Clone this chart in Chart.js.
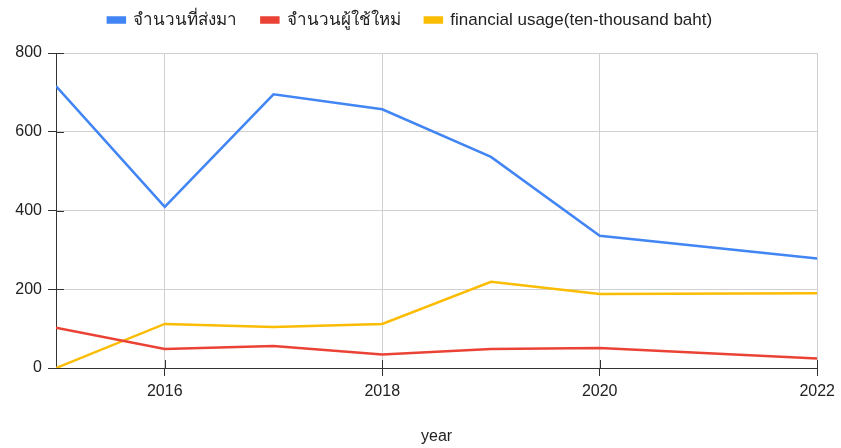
<!DOCTYPE html>
<html>
<head>
<meta charset="utf-8">
<script src="https://cdn.jsdelivr.net/npm/chart.js@4"></script>
<style>
html,body{margin:0;padding:0;background:#fff;}
canvas{display:block;}
</style>
</head>
<body>
<canvas id="c" width="841" height="448"></canvas>
<script>
const years = [2015, 2016, 2017, 2018, 2019, 2020, 2022];
const sentIn = [716, 409, 695, 657, 536, 336, 278];
const newUsers = [102, 48, 56, 34, 48, 51, 24];
const financialUsage = [0, 112, 104, 112, 219, 188, 190];
const seriesNames = ['จำนวนที่ส่งมา', 'จำนวนผู้ใช้ใหม่', 'financial usage(ten-thousand baht)'];
const xTicks = [2016, 2018, 2020, 2022];
const yTicks = [0, 200, 400, 600, 800];

const FONT = "Arial, 'Liberation Sans', 'Noto Sans', sans-serif";
const toPts = arr => years.map((y, i) => ({x: y, y: arr[i]}));

const innerTicks = {
  id: 'innerTicks',
  beforeDatasetsDraw(chart) {
    const ctx = chart.ctx, xs = chart.scales.x, ys = chart.scales.y;
    const a = chart.chartArea;
    ctx.save();
    ctx.strokeStyle = '#333';
    ctx.lineWidth = 1;
    ctx.beginPath();
    xTicks.forEach(v => {
      const px = Math.round(xs.getPixelForValue(v)) + 0.5;
      ctx.moveTo(px, a.bottom); ctx.lineTo(px, a.bottom - 8);
    });
    yTicks.forEach(v => {
      const py = Math.round(ys.getPixelForValue(v)) + 0.5;
      ctx.moveTo(a.left, py); ctx.lineTo(a.left + 8, py);
    });
    ctx.stroke();
    ctx.restore();
  }
};

const legendShift = {
  id: 'legendShift',
  afterLayout(chart) {
    if (chart.legend) {
      chart.legend.top -= 14.5;
      chart.legend.bottom -= 14.5;
    }
  }
};

new Chart(document.getElementById('c'), {
  type: 'line',
  data: {
    datasets: [
      {label: seriesNames[0], data: toPts(sentIn), borderColor: '#4285F4', backgroundColor: '#4285F4'},
      {label: seriesNames[1], data: toPts(newUsers), borderColor: '#EA4335', backgroundColor: '#EA4335'},
      {label: seriesNames[2], data: toPts(financialUsage), borderColor: '#FBBC04', backgroundColor: '#FBBC04'}
    ]
  },
  options: {
    responsive: false,
    animation: false,
    devicePixelRatio: 1,
    layout: {padding: {left: 0, right: 21, top: 2, bottom: 0}},
    elements: {
      line: {borderWidth: 2.5, tension: 0},
      point: {radius: 0, hoverRadius: 0}
    },
    plugins: {
      tooltip: {enabled: false},
      legend: {
        position: 'top',
        align: 'center',
        labels: {
          boxWidth: 17,
          boxHeight: 5,
          padding: 24,
          color: '#222',
          font: {family: FONT, size: 17}
        }
      }
    },
    scales: {
      x: {
        type: 'linear',
        min: 2015,
        max: 2022,
        afterBuildTicks: s => { s.ticks = xTicks.map(v => ({value: v})); },
        afterFit: s => { s.height = 80; },
        grid: {color: '#d0d0d0', tickColor: '#333', tickLength: 8, drawOnChartArea: true},
        border: {color: '#333', width: 1},
        ticks: {color: '#222', font: {family: FONT, size: 16}, padding: 6, maxRotation: 0, callback: v => String(v)},
        title: {display: true, text: 'year', color: '#222', font: {family: FONT, size: 16}, padding: {top: 4, bottom: 2}}
      },
      y: {
        min: 0,
        max: 800,
        afterBuildTicks: s => { s.ticks = yTicks.map(v => ({value: v})); },
        afterFit: s => { s.width = 56; },
        grid: {color: '#d0d0d0', tickColor: '#333', tickLength: 8},
        border: {color: '#333', width: 1},
        ticks: {color: '#222', font: {family: FONT, size: 16}, padding: 6}
      }
    }
  },
  plugins: [innerTicks, legendShift]
});
</script>
</body>
</html>
